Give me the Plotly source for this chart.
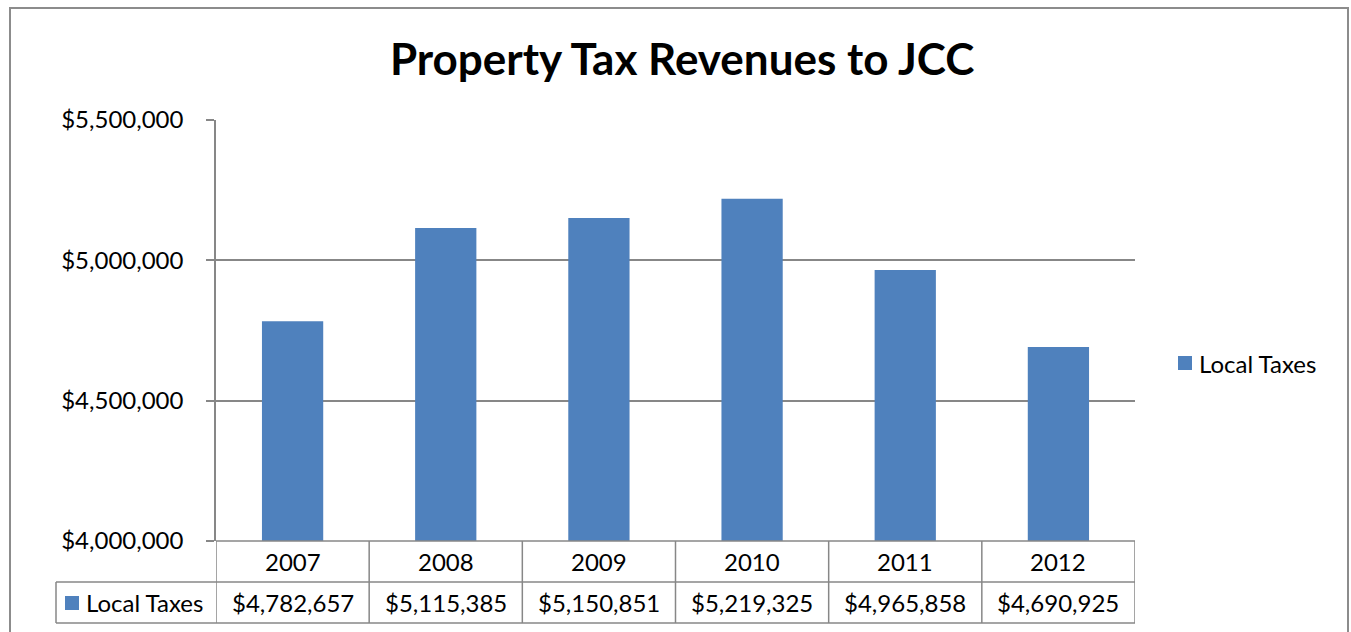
import plotly.graph_objects as go

years = ["2007", "2008", "2009", "2010", "2011", "2012"]
local_taxes = [4782657, 5115385, 5150851, 5219325, 4965858, 4690925]
series_name = "Local Taxes"
title_text = "Property Tax Revenues to JCC"
y_ticks = [4000000, 4500000, 5000000, 5500000]

W, H = 1351, 632
L, R, T, B = 216, 1135, 120, 541
BAR_BLUE = "#4F81BD"
GRID = "#878787"
FONT = "Lato, 'Open Sans', sans-serif"
TXT = 24


def px_x(px):
    return (px - L) / (R - L)


def px_y(py):
    return (B - py) / (B - T)


def money(v):
    return "${:,.0f}".format(v)


fig = go.Figure()
fig.add_trace(go.Bar(
    x=years, y=local_taxes, name=series_name,
    marker=dict(color=BAR_BLUE, line=dict(width=0)),
    width=0.4, showlegend=False,
))

shapes = []
annotations = []

# outer chart frame
shapes.append(dict(type="rect", xref="paper", yref="paper",
                   x0=px_x(10), x1=px_x(1348), y0=px_y(640), y1=px_y(8),
                   line=dict(color="#8c8c8c", width=2), layer="below"))

# data table under the axis
row1_top, row1_bot, row2_bot = 541, 582, 623
hdr_left = 56
n = len(years)
line_style = dict(color=GRID, width=1.5)
for py in (row1_bot, row2_bot):
    shapes.append(dict(type="line", xref="paper", yref="paper",
                       x0=px_x(hdr_left), x1=1, y0=px_y(py), y1=px_y(py), line=line_style))
shapes.append(dict(type="line", xref="paper", yref="paper",
                   x0=0, x1=1, y0=px_y(row1_top), y1=px_y(row1_top), line=line_style))
for i in range(n + 1):
    shapes.append(dict(type="line", xref="x", yref="paper",
                       x0=i - 0.5, x1=i - 0.5, y0=px_y(row1_top), y1=px_y(row2_bot),
                       line=line_style))
shapes.append(dict(type="line", xref="paper", yref="paper",
                   x0=px_x(hdr_left), x1=px_x(hdr_left), y0=px_y(row1_bot), y1=px_y(row2_bot),
                   line=line_style))
# series key in the table row header
shapes.append(dict(type="rect", xref="paper", yref="paper",
                   x0=px_x(65), x1=px_x(79), y0=px_y(610), y1=px_y(596),
                   fillcolor=BAR_BLUE, line=dict(width=0)))
annotations.append(dict(xref="paper", yref="paper", x=px_x(84), y=px_y(602),
                        text=series_name, showarrow=False, xanchor="left", yanchor="middle",
                        font=dict(family=FONT, size=TXT, color="black")))

# table cells: year header row and value row, one column per category
for i, (yr, v) in enumerate(zip(years, local_taxes)):
    annotations.append(dict(xref="x", yref="paper", x=i, y=px_y(561),
                            text=yr, showarrow=False, xanchor="center", yanchor="middle",
                            font=dict(family=FONT, size=TXT, color="black")))
    annotations.append(dict(xref="x", yref="paper", x=i, y=px_y(602),
                            text=money(v), showarrow=False, xanchor="center", yanchor="middle",
                            font=dict(family=FONT, size=TXT, color="black")))

# legend on the right
shapes.append(dict(type="rect", xref="paper", yref="paper",
                   x0=px_x(1178), x1=px_x(1192), y0=px_y(370), y1=px_y(356),
                   fillcolor=BAR_BLUE, line=dict(width=0)))
annotations.append(dict(xref="paper", yref="paper", x=px_x(1197), y=px_y(363),
                        text=series_name, showarrow=False, xanchor="left", yanchor="middle",
                        font=dict(family=FONT, size=TXT, color="black")))

fig.update_layout(
    width=W, height=H,
    margin=dict(l=L, r=W - R, t=T, b=H - B),
    paper_bgcolor="white", plot_bgcolor="white",
    title=dict(text="<b>" + title_text + "</b>", x=px_x(680), xanchor="center",
               y=1 - 60 / H, yanchor="middle",
               font=dict(family=FONT, size=44, color="black")),
    showlegend=False,
    shapes=shapes, annotations=annotations,
)
fig.update_xaxes(type="category", range=[-0.5, n - 0.5],
                 showticklabels=False, showline=False, showgrid=False, ticks="",
                 zeroline=False)
fig.update_yaxes(range=[4000000, 5500000], tickvals=y_ticks,
                 ticktext=[money(v) for v in y_ticks],
                 showgrid=True, gridcolor=GRID, gridwidth=1.5,
                 showline=True, linecolor=GRID, linewidth=1.5,
                 ticks="outside", ticklen=8, tickcolor=GRID, tickwidth=1.5,
                 ticklabelstandoff=18, zeroline=False,
                 tickfont=dict(family=FONT, size=TXT, color="black"))

fig.write_html("out.html")
